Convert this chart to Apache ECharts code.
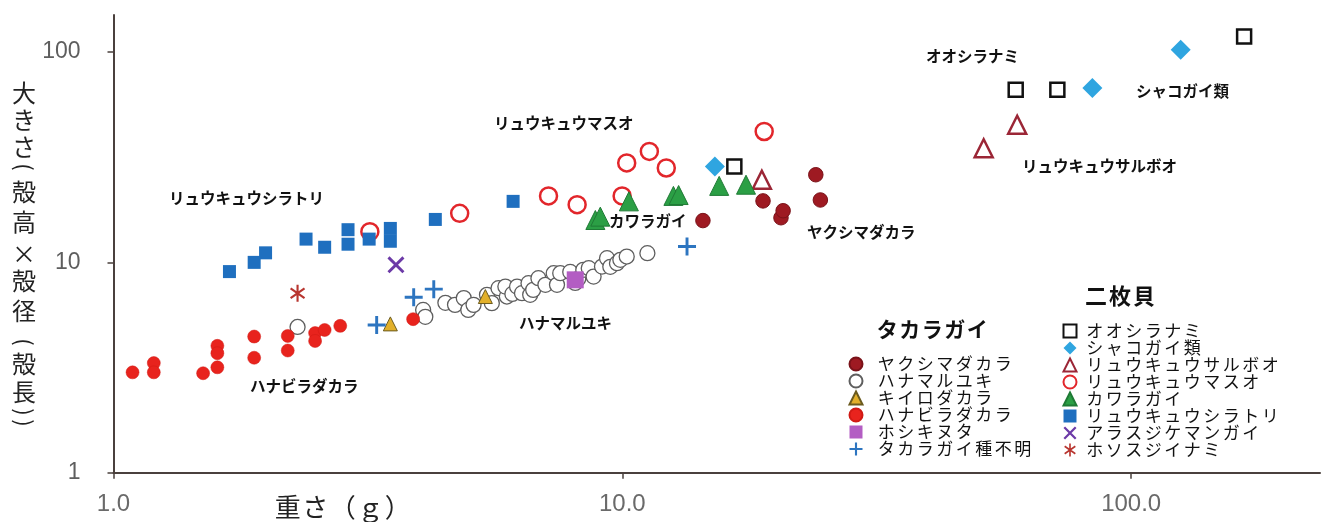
<!DOCTYPE html>
<html>
<head>
<meta charset="utf-8">
<script src="https://cdn.jsdelivr.net/npm/echarts@6/dist/echarts.min.js"></script>
<style>
html,body{margin:0;padding:0;background:#fff;}
#chart{width:1322px;height:522px;}
</style>
</head>
<body>
<div id="chart"></div>
<script>
// ---------- data ----------
const xTicks = [1, 10, 100];
const xTickLabels = ['1.0', '10.0', '100.0'];
const yTicks = [1, 10, 100];
const yTickLabels = ['1', '10', '100'];
const xMin = 1, xMax = 235;
const yMin = 1, yMax = 150;

const takaraNames = ['ヤクシマダカラ', 'ハナマルユキ', 'キイロダカラ', 'ハナビラダカラ', 'ホシキヌタ', 'タカラガイ種不明'];
const nimaiNames = ['オオシラナミ', 'シャコガイ類', 'リュウキュウサルボオ', 'リュウキュウマスオ', 'カワラガイ', 'リュウキュウシラトリ', 'アラスジケマンガイ', 'ホソスジイナミ'];

const yakushimaDakara = [[14.4,15.8],[18.9,19.6],[20.5,16.3],[20.7,17.6],[24.0,26.1],[24.5,19.8]];
const hanamaruYuki = [[2.30,4.93],[4.06,5.94],[4.10,5.51],[4.49,6.42],[4.69,6.28],[4.88,6.76],[4.98,5.94],[5.10,6.28],[5.42,7.01],[5.54,6.40],[5.71,7.54],[5.93,6.88],[5.89,7.67],[6.08,7.08],[6.21,7.67],[6.35,7.14],[6.54,7.96],[6.59,7.01],[6.68,7.40],[6.84,8.41],[7.06,7.82],[7.33,8.88],[7.44,7.82],[7.55,8.88],[7.90,9.01],[8.08,7.99],[8.19,8.35],[8.38,9.21],[8.59,9.38],[8.78,8.56],[9.12,9.55],[9.33,10.47],[9.47,9.52],[9.76,9.91],[9.91,10.28],[10.2,10.66],[11.2,11.06]];
const kiiroDakara = [[3.50,5.10],[5.38,6.88]];
const hanabiraDakara = [[1.09,3.00],[1.20,3.32],[1.20,3.00],[1.50,2.97],[1.60,4.01],[1.60,3.70],[1.60,3.17],[1.89,4.44],[1.89,3.52],[2.20,4.47],[2.20,3.81],[2.49,4.61],[2.49,4.23],[2.60,4.77],[2.79,4.99],[3.88,5.37]];
const hoshiKinuta = [[8.08,8.26]];
const takaraUnknown = [[3.29,5.04],[3.89,6.83],[4.26,7.46],[13.4,11.9]];

const ooShiranami = [[16.6,28.6],[59.3,66.2],[71.6,66.2],[166.7,118.7]];
const shakogai = [[15.2,28.6],[83.9,67.4],[125.1,102.6]];
const saruboo = [[18.8,24.7],[51.3,34.9],[59.7,45.1]];
const masuo = [[3.19,14.0],[4.79,17.1],[7.16,20.7],[8.15,18.8],[9.99,20.7],[10.2,29.7],[11.3,33.7],[12.2,28.1],[19.0,41.9]];
const kawaragai = [[8.85,15.9],[9.05,16.5],[10.3,19.5],[12.6,20.7],[12.9,20.9],[15.5,23.1],[17.5,23.4]];
const shiratori = [[1.69,9.04],[1.89,10.0],[1.99,11.1],[2.39,12.9],[2.60,11.8],[2.89,14.3],[2.89,12.2],[3.18,12.9],[3.50,14.5],[3.50,12.6],[4.29,16.0],[6.10,19.5]];
const arasuji = [[3.59,9.73]];
const hosusuji = [[2.30,7.14]];

// ---------- helpers ----------
const JP = '"Noto Sans CJK JP", "Noto Sans", sans-serif';
const NUM = '"Liberation Sans", Arial, sans-serif';

function bars(angles, L, h) {
  let d = '';
  angles.forEach(a => {
    const r = a * Math.PI / 180, c = Math.cos(r), s = Math.sin(r);
    const pts = [[-L,-h],[L,-h],[L,h],[-L,h]].map(([x, y]) =>
      (x * c - y * s + 10).toFixed(3) + ',' + (x * s + y * c + 10).toFixed(3));
    d += 'M' + pts.join('L') + 'Z';
  });
  return 'path://' + d;
}
const PLUS = bars([0, 90], 8, 1.3);
const CROSS = bars([45, 135], 8, 1.1);
const STAR = bars([90, 35, 145], 8, 1.0);

function labelFor(v, ticks, labels) {
  for (let i = 0; i < ticks.length; i++) {
    if (Math.abs(Math.log10(v) - Math.log10(ticks[i])) < 1e-6) return labels[i];
  }
  return '';
}
function spaced(str, key) {
  return Array.from(str).map(c => '{' + key + '|' + c + '}').join('');
}

function sc(name, data, symbol, size, itemStyle) {
  return {
    type: 'scatter', name: name, data: data, symbol: symbol, symbolSize: size,
    symbolKeepAspect: true, itemStyle: Object.assign({opacity: 1}, itemStyle), emphasis: {disabled: true}
  };
}

const series = [
  sc(takaraNames[0], yakushimaDakara, 'circle', 14.5, {color: '#9e1a22', borderColor: '#7a1219', borderWidth: 1}),
  sc(takaraNames[1], hanamaruYuki, 'circle', 15, {color: '#ffffff', borderColor: '#5e5e5e', borderWidth: 1.3}),
  sc(takaraNames[2], kiiroDakara, 'triangle', 14, {color: '#e2b02a', borderColor: '#6b5b1f', borderWidth: 1}),
  sc(takaraNames[3], hanabiraDakara, 'circle', 13, {color: '#e8231d', borderColor: '#d01a15', borderWidth: 0.5}),
  sc(takaraNames[4], hoshiKinuta, 'rect', 17, {color: '#b35dc3'}),
  sc(takaraNames[5], takaraUnknown, PLUS, 18, {color: '#2d75c0'}),
  sc(nimaiNames[0], ooShiranami, 'rect', 14, {color: '#ffffff', borderColor: '#111111', borderWidth: 2.5}),
  sc(nimaiNames[1], shakogai, 'diamond', 20, {color: '#2fa5e0'}),
  sc(nimaiNames[2], saruboo, 'triangle', 18, {color: '#ffffff', borderColor: '#9b2636', borderWidth: 2.5}),
  sc(nimaiNames[3], masuo, 'circle', 17, {color: '#ffffff', borderColor: '#e2262b', borderWidth: 2.5}),
  sc(nimaiNames[4], kawaragai, 'triangle', 19, {color: '#2b9f45', borderColor: '#1f7a35', borderWidth: 1}),
  sc(nimaiNames[5], shiratori, 'rect', 13, {color: '#1f6fbf'}),
  sc(nimaiNames[6], arasuji, CROSS, 17, {color: '#6c3aa7'}),
  sc(nimaiNames[7], hosusuji, STAR, 17, {color: '#b8352f'})
];

function legendCfg(names, left, top, lead) {
  return {
    orient: 'vertical', left: left, top: top, padding: 0, itemGap: 0,
    itemWidth: 13, itemHeight: 13, selectedMode: false, data: names,
    formatter: n => '{s| }' + spaced(n, 'c'),
    textStyle: {fontFamily: JP, fontSize: 17, color: '#111', rich: {
      s: {width: lead, fontSize: 17, lineHeight: 16},
      c: {width: 19.5, align: 'center', fontSize: 17, lineHeight: 16, fontFamily: JP, color: '#111'}
    }}
  };
}

const annotations = [
  ['リュウキュウシラトリ', 169, 198],
  ['ハナビラダカラ', 250, 386.5],
  ['ハナマルユキ', 519, 323],
  ['カワラガイ', 609, 221.5],
  ['リュウキュウマスオ', 494, 123],
  ['ヤクシマダカラ', 807, 232.5],
  ['オオシラナミ', 926, 56.5],
  ['シャコガイ類', 1136, 91.5],
  ['リュウキュウサルボオ', 1022, 166.5]
];

// vertical y-axis title: [char, centre y, rotate?]
const yNameParts = [
  ['大', 92.5, 0], ['き', 120, 0], ['さ', 147, 0], ['(', 167, 1],
  ['殻', 192, 0], ['高', 222, 0], ['×', 254, 0], ['殻', 281, 0], ['径', 311, 0],
  ['(', 342, 1], ['殻', 364, 0], ['長', 392, 0], [')', 412, 1], [')', 423, 1]
];

const graphic = annotations.map(a => ({
  type: 'text', x: a[1], y: a[2], silent: true,
  style: {text: a[0], fontFamily: JP, fontSize: 15.5, fontWeight: 'bold', fill: '#111', align: 'left', verticalAlign: 'middle'}
})).concat([
  {type: 'text', x: 876, y: 329, silent: true,
   style: {text: spaced('タカラガイ', 'h'), align: 'left', verticalAlign: 'middle',
     rich: {h: {width: 22.5, align: 'center', fontSize: 21, fontWeight: 'bold', fontFamily: JP, fill: '#111'}}}},
  {type: 'text', x: 1084, y: 295.5, silent: true,
   style: {text: spaced('二枚貝', 'h'), align: 'left', verticalAlign: 'middle',
     rich: {h: {width: 24, align: 'center', fontSize: 22, fontWeight: 'bold', fontFamily: JP, fill: '#111'}}}},
  {type: 'text', x: 274, y: 507, silent: true,
   style: {text: spaced('重さ（ｇ）', 't'), align: 'left', verticalAlign: 'middle',
     rich: {t: {width: 27.5, align: 'center', fontSize: 26, fontFamily: JP, fill: '#222'}}}}
]).concat(yNameParts.map(p => ({
  type: 'text', x: 24, y: p[1], rotation: p[2] ? -Math.PI / 2 : 0, silent: true,
  style: {text: p[0], fontFamily: JP, fontSize: p[2] ? 22 : 24, fill: '#222', align: 'center', verticalAlign: 'middle'}
})));

const axisColor = '#4a403d';
const option = {
  animation: false,
  backgroundColor: '#ffffff',
  grid: {left: 113.5, right: 2, top: 15, bottom: 49.3, containLabel: false},
  xAxis: {
    type: 'log', logBase: 10, min: xMin, max: xMax,
    axisLine: {show: true, lineStyle: {color: axisColor, width: 2}},
    axisTick: {show: true, length: 6, customValues: xTicks, lineStyle: {color: axisColor, width: 1.5}},
    axisLabel: {customValues: xTicks, formatter: v => labelFor(v, xTicks, xTickLabels), margin: 20,
      fontSize: 24, color: '#6a6a6a', fontFamily: NUM},
    splitLine: {show: false}, minorTick: {show: false}, minorSplitLine: {show: false}
  },
  yAxis: {
    type: 'log', logBase: 10, min: yMin, max: yMax,
    axisLine: {show: true, lineStyle: {color: axisColor, width: 2}},
    axisTick: {show: true, length: 6, customValues: yTicks, lineStyle: {color: axisColor, width: 1.5}},
    axisLabel: {customValues: yTicks, formatter: v => labelFor(v, yTicks, yTickLabels), margin: 33,
      fontSize: 23, color: '#5e5e5e', fontFamily: NUM},
    splitLine: {show: false}, minorTick: {show: false}, minorSplitLine: {show: false}
  },
  legend: [legendCfg(takaraNames, 848.5, 355.5, 9), legendCfg(nimaiNames, 1062.5, 322.5, 3.5)],
  graphic: graphic,
  series: series
};

const chart = echarts.init(document.getElementById('chart'), null, {renderer: 'canvas'});
chart.setOption(option);
</script>
</body>
</html>
